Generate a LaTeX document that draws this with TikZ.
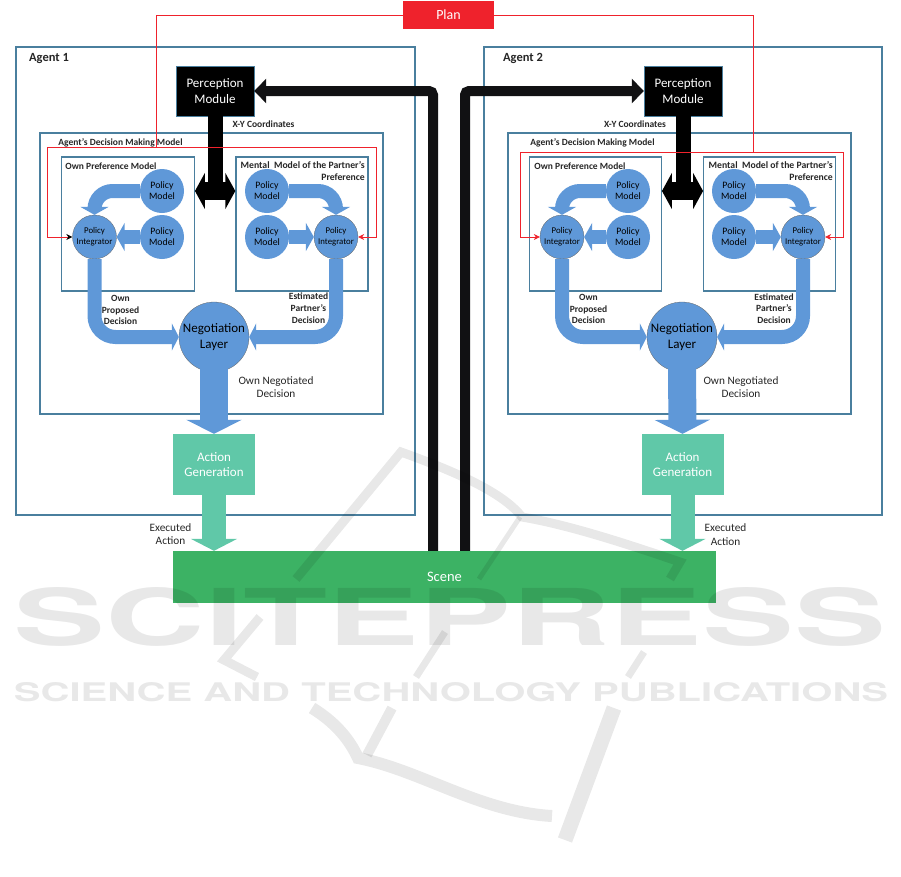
\documentclass[tikz,border=0pt]{standalone}
\usepackage{fontspec}
\setmainfont{Carlito}
\newfontfamily\wmfont{TeX Gyre Heros}
\usepackage{tikz}
\usetikzlibrary{arrows.meta,positioning}

\definecolor{agentblue}{HTML}{4A7F9E}
\definecolor{policyblue}{HTML}{5F98D8}
\definecolor{actiongreen}{HTML}{60C8A8}
\definecolor{scenegreen}{HTML}{3CB264}
\definecolor{planred}{HTML}{EF222C}
\definecolor{blackline}{HTML}{111113}

\begin{document}
\begin{tikzpicture}[
  x=1pt, y=-1pt,
  every node/.style={inner sep=0pt, align=center},
  frame/.style={draw=agentblue, line width=2.4pt, fill=none},
  innerframe/.style={draw=agentblue, line width=1.4pt, fill=none},
  percbox/.style={rectangle, fill=black, draw=agentblue, line width=0.4pt, text=white, minimum width=78pt, minimum height=50pt, font=\fontsize{13}{15.5}\selectfont},
  actbox/.style={rectangle, fill=actiongreen, text=white, minimum width=82pt, minimum height=61pt, font=\fontsize{13}{15.5}\selectfont},
  policy/.style={circle, fill=policyblue, minimum size=44pt, font=\fontsize{9.8}{11}\selectfont},
  integ/.style={circle, fill=policyblue, draw=black!60, line width=0.3pt, minimum size=44pt, font=\fontsize{8.8}{11}\selectfont},
  nego/.style={circle, fill=policyblue, draw=black!60, line width=0.3pt, minimum size=70pt, font=\fontsize{13}{15.5}\selectfont},
  boxlabel/.style={font=\fontsize{9.5}{12}\selectfont\bfseries, text=black!85},
  smalllabel/.style={font=\fontsize{9.5}{11.7}\selectfont\bfseries, text=black!85},
  plainlabel/.style={font=\fontsize{11.3}{13.7}\selectfont, text=black!85},
  fatblue/.style={draw=policyblue, line width=14pt, rounded corners=21pt, -{Triangle[length=7pt, width=27pt]}},
  midblue/.style={draw=policyblue, line width=14pt, rounded corners=18pt, -{Triangle[length=8pt, width=28pt]}},
  downblue/.style={draw=policyblue, line width=28pt, -{Triangle[length=14pt, width=55pt]}},
  downgreen/.style={draw=actiongreen, line width=24pt, -{Triangle[length=12pt, width=46pt]}},
  sensor/.style={draw=blackline, line width=10pt, rounded corners=4pt, -{Triangle[length=12pt, width=24pt]}},
  coordline/.style={draw=black, line width=15pt},
  bothway/.style={draw=black, line width=18pt, {Triangle[length=10pt, width=36pt]}-{Triangle[length=10pt, width=36pt]}},
  planline/.style={draw=planred, line width=0.8pt},
  planarrow/.style={draw=planred, line width=0.8pt, -{Stealth[length=6pt, width=6pt]}},
  wmtext/.style={text=black, opacity=0.09},
  wmline/.style={draw=black, opacity=0.09, line width=9pt}
]
\useasboundingbox (0,0) rectangle (901,876);

\node[frame, minimum width=399pt, minimum height=468pt] (agentL) at (215.5,281) {};
\node[frame, minimum width=398pt, minimum height=468pt] (agentR) at (683,281) {};
\node[innerframe, minimum width=343pt, minimum height=281pt] (decideL) at (211.5,273.5) {};
\node[innerframe, minimum width=343pt, minimum height=281pt] (decideR) at (679.5,273.5) {};
\node[innerframe, minimum width=132.5pt, minimum height=134pt] (ownL) at (128,224) {};
\node[innerframe, minimum width=132pt, minimum height=134pt] (mentalL) at (302,224) {};
\node[innerframe, minimum width=131.5pt, minimum height=134pt] (ownR) at (595.5,224) {};
\node[innerframe, minimum width=131.5pt, minimum height=134pt] (mentalR) at (769.5,224) {};

\node[font=\fontsize{12.5}{14}\selectfont\bfseries, text=black!85] (agentLtext) at (49,58) {Agent 1};
\node[font=\fontsize{12.5}{14}\selectfont\bfseries, text=black!85] (agentRtext) at (523,58) {Agent 2};
\node[boxlabel] (decideLtext) at (120.5,143) {Agent's Decision Making Model};
\node[boxlabel] (decideRtext) at (592.5,143) {Agent's Decision Making Model};
\node[boxlabel] (ownLtext) at (111,166) {Own Preference Model};
\node[boxlabel] (ownRtext) at (580,166) {Own Preference Model};
\node[boxlabel, font=\fontsize{9.7}{12}\selectfont\bfseries, align=right, anchor=north east] (mentalLtext) at (365,161.5) {Mental\ \ Model of the Partner's\\Preference};
\node[boxlabel, font=\fontsize{9.7}{12}\selectfont\bfseries, align=right, anchor=north east] (mentalRtext) at (833,161.5) {Mental\ \ Model of the Partner's\\Preference};
\node[boxlabel] (xyLtext) at (263.5,124) {X-Y Coordinates};
\node[boxlabel] (xyRtext) at (635,124) {X-Y Coordinates};

\node[policy] (modelLa) at (162,191) {Policy\\Model};
\node[policy] (modelLb) at (162,237) {Policy\\Model};
\node[policy] (modelLc) at (267,191) {Policy\\Model};
\node[policy] (modelLd) at (267,237) {Policy\\Model};
\node[policy] (modelRa) at (628,191) {Policy\\Model};
\node[policy] (modelRb) at (628,237) {Policy\\Model};
\node[policy] (modelRc) at (734,191) {Policy\\Model};
\node[policy] (modelRd) at (734,237) {Policy\\Model};
\node[integ] (integLa) at (94.5,237) {Policy\\Integrator};
\node[integ] (integLb) at (336,237) {Policy\\Integrator};
\node[integ] (integRa) at (562,237) {Policy\\Integrator};
\node[integ] (integRb) at (803,237) {Policy\\Integrator};
\node[nego] (negoL) at (214,337) {Negotiation\\Layer};
\node[nego] (negoR) at (682,337) {Negotiation\\Layer};
\node[actbox] (actL) at (214,464.5) {Action\\Generation};
\node[actbox] (actR) at (682.5,464.5) {Action\\Generation};
\node[rectangle, fill=scenegreen, text=white, minimum width=543pt, minimum height=52pt, font=\fontsize{14.5}{15}\selectfont] (scene) at (444.5,577) {Scene};
\node[rectangle, fill=planred, text=white, minimum width=91pt, minimum height=28pt, font=\fontsize{14}{15}\selectfont] (plan) at (448.5,15) {Plan};

\node[percbox] (percL) at (215,91) {Perception\\Module};
\node[percbox] (percR) at (683,91) {Perception\\Module};

\coordinate (busL) at (433,91);
\coordinate (busR) at (465,91);
\draw[sensor] (scene.north -| busL) -- (busL) -- (percL.east);
\draw[sensor] (scene.north -| busR) -- (busR) -- (percR.west);

\draw[bothway] (ownL.east |- modelLa) -- (mentalL.west |- modelLa);
\draw[bothway] (ownR.east |- modelRa) -- (mentalR.west |- modelRa);
\draw[coordline] (percL.south) -- ++(0,76);
\draw[coordline] (percR.south) -- ++(0,76);

\draw[midblue] (modelLa.west) -| (integLa.north);
\draw[midblue] (modelRa.west) -| (integRa.north);
\draw[midblue] (modelLc.east) -| (integLb.north);
\draw[midblue] (modelRc.east) -| (integRb.north);
\draw[midblue, rounded corners=0pt] (modelLb.west) -- (integLa.east);
\draw[midblue, rounded corners=0pt] (modelRb.west) -- (integRa.east);
\draw[midblue, rounded corners=0pt] (modelLd.east) -- (integLb.west);
\draw[midblue, rounded corners=0pt] (modelRd.east) -- (integRb.west);
\draw[fatblue] (integLa.south) |- (negoL.west);
\draw[fatblue] (integRa.south) |- (negoR.west);
\draw[fatblue] (integLb.south) |- (negoL.east);
\draw[fatblue] (integRb.south) |- (negoR.east);
\draw[downblue] (negoL.south) ++(0,-5) -- (actL.north);
\draw[downblue] (negoR.south) ++(0,-5) -- (actR.north);
\draw[downgreen] (actL.south) -- (actL.south |- scene.north);
\draw[downgreen] (actR.south) -- (actR.south |- scene.north);

\node[smalllabel] (ownDecL) at (120.5,310) {Own\\Proposed\\Decision};
\node[smalllabel] (ownDecR) at (588.5,309) {Own\\Proposed\\Decision};
\node[smalllabel] (estDecL) at (308.5,308) {Estimated\\Partner's\\Decision};
\node[smalllabel] (estDecR) at (774,308.5) {Estimated\\Partner's\\Decision};
\node[plainlabel] (negDecL) at (276,387) {Own Negotiated\\Decision};
\node[plainlabel] (negDecR) at (741,387) {Own Negotiated\\Decision};
\node[plainlabel] (execL) at (170.5,534) {Executed\\Action};
\node[plainlabel] (execR) at (725.5,534.5) {Executed\\Action};

\coordinate (tapL) at (156,147);
\coordinate (tapR) at (753.5,152);
\coordinate (cornerLa) at (47.5,237);
\coordinate (cornerLb) at (376.5,237);
\coordinate (cornerRa) at (520,237);
\coordinate (cornerRb) at (843.5,237);
\draw[planline] (plan.west) -| (tapL);
\draw[planline] (plan.east) -| (tapR);
\draw[planarrow, -{Stealth[length=6pt, width=6pt, black]}] (tapL) -| (cornerLa) -- (integLa.west);
\draw[planarrow] (tapL) -| (cornerLb) -- (integLb.east);
\draw[planarrow] (tapR) -| (cornerRa) -- (integRa.west);
\draw[planarrow] (tapR) -| (cornerRb) -- (integRb.east);

\node[wmtext] (wmtitle) at (450,617) {\resizebox{872pt}{58pt}{\wmfont\bfseries SCITEPRESS}};
\node[wmtext] (wmsub) at (451,692.5) {\resizebox{874pt}{19pt}{\wmfont\bfseries SCIENCE AND TECHNOLOGY PUBLICATIONS}};
\draw[wmline] (296,579) -- (401,452) .. controls (465,475) and (505,495) .. (522,517) .. controls (570,525) and (630,545) .. (680,562) -- (670,579);
\draw[wmline, line width=5pt] (479,579) -- (520,517);
\draw[wmline] (260,617) -- (224,660) -- (257,677);
\draw[wmline, line width=7pt] (445,632) -- (416,677);
\draw[wmline, line width=7pt] (644,652) -- (628,677);
\draw[wmline, line width=10pt] (392,708) -- (367,755);
\draw[wmline, line width=12pt] (312,708) .. controls (340,725) and (352,745) .. (358,758) .. controls (420,770) and (480,812) .. (552,816);
\draw[wmline, line width=15pt] (614,708) -- (565,840);
\end{tikzpicture}
\end{document}
